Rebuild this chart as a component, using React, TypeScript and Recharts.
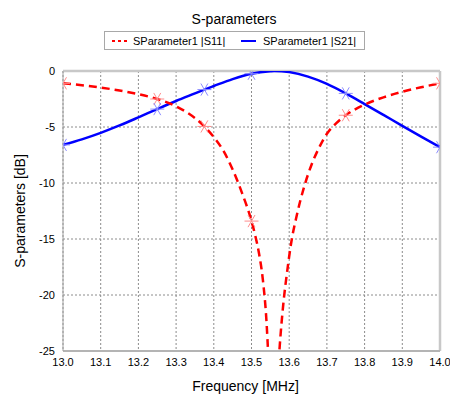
import React from "react";
import {
  ComposedChart,
  Line,
  XAxis,
  YAxis,
  CartesianGrid,
  ReferenceLine,
} from "recharts";

const title = "S-parameters";
const seriesNames = ["SParameter1 |S11|", "SParameter1 |S21|"];
const xTicks = [13.0, 13.1, 13.2, 13.3, 13.4, 13.5, 13.6, 13.7, 13.8, 13.9, 14.0];
const yTicks = [0, -5, -10, -15, -20, -25];

// |S11| in dB
const s11Freq = [
  13.0, 13.05, 13.1, 13.15, 13.2, 13.25, 13.3, 13.35, 13.375, 13.4, 13.425, 13.45,
  13.475, 13.5, 13.51, 13.52, 13.53, 13.54, 13.55, 13.556, 13.565, 13.575, 13.585,
  13.595, 13.605, 13.62, 13.64, 13.66, 13.68, 13.7, 13.725, 13.75, 13.775, 13.8,
  13.85, 13.9, 13.95, 14.0,
];
const s11Db = [
  -1.1, -1.27, -1.48, -1.74, -2.07, -2.5, -3.15, -4.2, -4.95, -5.9, -7.1, -8.8,
  -10.9, -13.4, -14.7, -16.3, -18.6, -22.5, -30, -36, -30, -24.5, -20.6,
  -17.8, -15.4, -12.9, -10.3, -8.3, -6.8, -5.6, -4.65, -3.95, -3.42, -3.0,
  -2.35, -1.85, -1.45, -1.1,
];

// |S21| in dB
const s21Freq = [
  13.0, 13.05, 13.1, 13.15, 13.2, 13.25, 13.3, 13.35, 13.375, 13.4, 13.45, 13.5,
  13.55, 13.56, 13.6, 13.65, 13.7, 13.75, 13.8, 13.85, 13.9, 13.95, 14.0,
];
const s21Db = [
  -6.6, -6.1, -5.52, -4.86, -4.14, -3.4, -2.68, -2.0, -1.66, -1.34, -0.72, -0.24,
  -0.02, 0, -0.1, -0.5, -1.15, -2.0, -2.95, -3.92, -4.9, -5.86, -6.8,
];

const markerFreq = [13.0, 13.25, 13.375, 13.5, 13.75, 14.0];

const s11Data = s11Freq.map((f, i) => ({ f, db: s11Db[i] }));
const s21Data = s21Freq.map((f, i) => ({ f, db: s21Db[i] }));
const s11Markers = s11Data.filter((d) => markerFreq.includes(d.f));
const s21Markers = s21Data.filter((d) => markerFreq.includes(d.f));

const FONT = '"Liberation Sans", Arial, sans-serif';

function Asterisk({ cx, cy, color }: { cx?: number; cy?: number; color: string }) {
  if (cx == null || cy == null) return null;
  const r = 7;
  const dx = r * 0.5;
  const dy = r * 0.866;
  return (
    <g stroke={color} strokeWidth={1}>
      <line x1={cx - r} y1={cy} x2={cx + r} y2={cy} />
      <line x1={cx - dx} y1={cy - dy} x2={cx + dx} y2={cy + dy} />
      <line x1={cx - dx} y1={cy + dy} x2={cx + dx} y2={cy - dy} />
    </g>
  );
}

function LegendBox() {
  return (
    <div
      style={{
        position: "absolute",
        left: 104,
        top: 31,
        width: 261,
        height: 19,
        boxSizing: "border-box",
        border: "1px solid #a8a8a8",
      }}
    >
      <svg width={259} height={17} style={{ position: "absolute", left: 0, top: 0 }}>
        <line x1={7} y1={9} x2={22} y2={9} stroke="#ff0000" strokeWidth={2} strokeDasharray="3 3" />
        <line x1={136} y1={9} x2={151} y2={9} stroke="#0000ff" strokeWidth={2} />
        <text x={28} y={13} fontFamily={FONT} fontSize={11} fill="#000">
          {seriesNames[0]}
        </text>
        <text x={158} y={13} fontFamily={FONT} fontSize={11} fill="#000">
          {seriesNames[1]}
        </text>
      </svg>
    </div>
  );
}

export default function App() {
  return (
    <div style={{ position: "absolute", left: 0, top: 0, width: 450, height: 394, background: "#fff" }}>
      <div
        style={{
          position: "absolute",
          left: 0,
          top: 12,
          width: 468,
          textAlign: "center",
          fontFamily: FONT,
          fontSize: 14,
          lineHeight: "14px",
        }}
      >
        {title}
      </div>
      <LegendBox />
      <ComposedChart
        width={450}
        height={394}
        margin={{ top: 71, right: 10, bottom: 0, left: 0 }}
        style={{ fontFamily: FONT }}
      >
        <CartesianGrid stroke="#8c8c8c" strokeDasharray="2 2" />
        <XAxis
          dataKey="f"
          type="number"
          domain={[13, 14]}
          ticks={xTicks}
          allowDataOverflow
          height={43}
          tickFormatter={(v: number) => v.toFixed(1)}
          tick={{ fontSize: 11, fill: "#000" }}
          tickLine={false}
          tickSize={6}
          tickMargin={1}
          axisLine={{ stroke: "#b4b4b4", strokeWidth: 2 }}
          label={{ value: "Frequency [MHz]", position: "insideBottom", offset: 3, dx: -6, fontSize: 14, fill: "#000" }}
        />
        <YAxis
          type="number"
          domain={[-25, 0]}
          ticks={yTicks}
          allowDataOverflow
          width={63}
          tick={{ fontSize: 11, fill: "#000" }}
          tickLine={false}
          tickSize={6}
          tickMargin={2}
          axisLine={{ stroke: "#a0a0a0" }}
          label={{
            value: "S-parameters [dB]",
            angle: -90,
            position: "insideLeft",
            offset: 20,
            fontSize: 14,
            fill: "#000",
            style: { textAnchor: "middle" },
          }}
        />
        <ReferenceLine y={0} stroke="#c8c8c8" strokeWidth={2.5} />
        <ReferenceLine x={14} stroke="#c8c8c8" strokeWidth={2.5} />
        <Line
          data={s21Data}
          dataKey="db"
          type="monotone"
          stroke="#0000ff"
          strokeWidth={2.5}
          dot={false}
          isAnimationActive={false}
        />
        <Line
          data={s11Data}
          dataKey="db"
          type="monotone"
          stroke="#ff0000"
          strokeWidth={2.5}
          strokeDasharray="8 5"
          dot={false}
          isAnimationActive={false}
        />
        <Line
          data={s11Markers}
          dataKey="db"
          stroke="none"
          dot={(p: any) => <Asterisk key={`r${p.index}`} cx={p.cx} cy={p.cy} color="#ff8c8c" />}
          isAnimationActive={false}
        />
        <Line
          data={s21Markers}
          dataKey="db"
          stroke="none"
          dot={(p: any) => <Asterisk key={`b${p.index}`} cx={p.cx} cy={p.cy} color="#8c8cff" />}
          isAnimationActive={false}
        />
      </ComposedChart>
    </div>
  );
}
